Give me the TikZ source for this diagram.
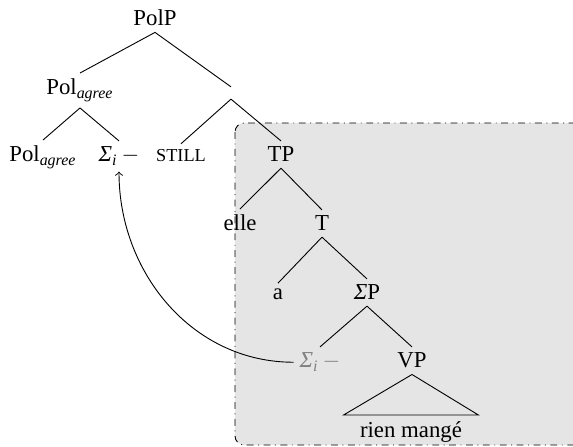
\documentclass[tikz,border=0pt]{standalone}
\usepackage{fontspec,amsmath}
\setmainfont{Liberation Serif}
\usetikzlibrary{shapes.geometric, arrows}
\newcommand{\sigmai}{\textit{Σ}$_{\text{\itshape i}}\,-$}
\newcommand{\agr}{$_{\text{\itshape agree}}$}

\begin{document}
\begin{tikzpicture}[x=0.4386pt,y=-0.4386pt,
    every node/.style={inner sep=2.5pt,anchor=base}]
        \useasboundingbox (0,0) rectangle (573,447);
        % shaded part of the tree
        \draw[dash dot,rounded corners=4pt,fill=gray!20] (235,123) rectangle (600,445);
        \node (polp) at (155,26) {PolP};
        \node (polagr) at (80,95) {Pol\agr};
        \node (bar) at (231,93) {};
        \node (polagrhead) at (43,162) {Pol\agr};
        \node (sig) at (119,162) {\sigmai};
        \node (still) at (181,162) {\footnotesize STILL};
        \node (tp) at (281,162) {TP};
        \node (elle) at (240,231) {elle};
        \node (t) at (322,231) {T};
        \node (a) at (278,300) {a};
        \node (sigp) at (367,300) {\textit{Σ}P};
        \node[text=gray] (sigcopy) at (320,368) {\sigmai};
        \node (vp) at (412,368) {VP};
        \node[inner xsep=7pt] (rien) at (411,437) {rien mangé};
        \draw (polp.south) -- (polagr.north);
        \draw (polp.south) -- (bar.north);
        \draw (polagr.south) -- (polagrhead.north);
        \draw (polagr.south) -- (sig.north);
        \draw (bar.south) -- (still.north);
        \draw (bar.south) -- (tp.north);
        \draw (tp.south) -- (elle.north);
        \draw (tp.south) -- (t.north);
        \draw (t.south) -- (a.north);
        \draw (t.south) -- (sigp.north);
        \draw (sigp.south) -- (sigcopy.north);
        \draw (sigp.south) -- (vp.north);
        \draw (vp.south) -- (rien.north west) -- (rien.north east) -- cycle;
        % movement
        \draw [->] (sigcopy.west) to[out=180,in=-90] (sig.south);
    \end{tikzpicture}
\end{document}
